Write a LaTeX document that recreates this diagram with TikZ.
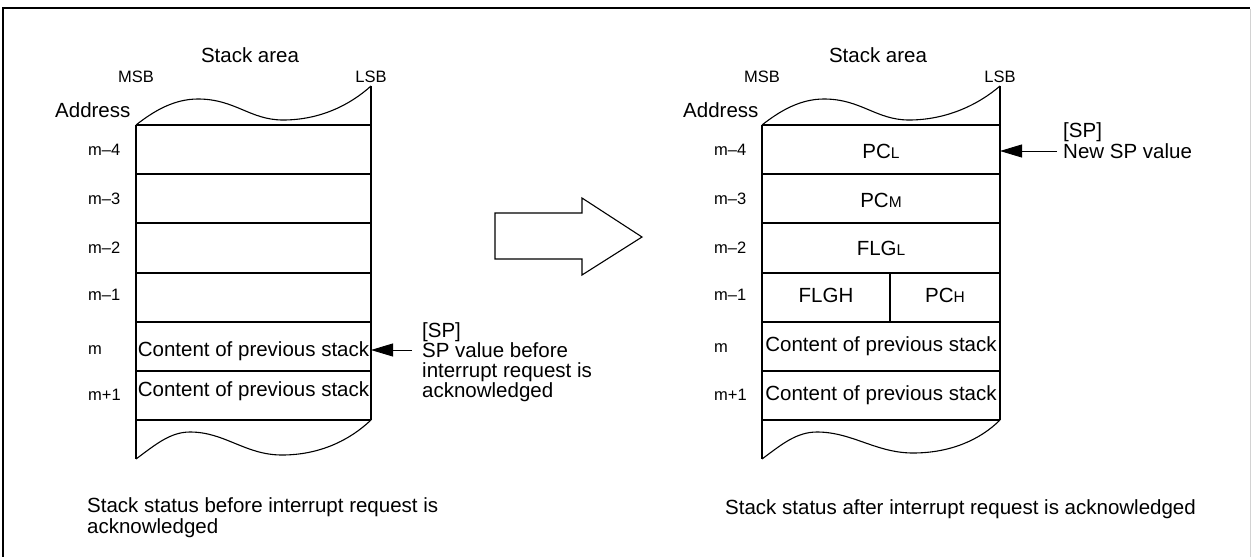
\documentclass[tikz,border=0pt]{standalone}
\usepackage{fontspec}
\setmainfont{Liberation Sans}
\usetikzlibrary{arrows.meta}
\newcommand{\lowsub}[1]{{\fontsize{15.5}{15.5}\selectfont #1}}
\tikzset{
  bigtxt/.style={font=\fontsize{20.5}{20.5}\selectfont, inner sep=0pt},
  smalltxt/.style={font=\fontsize{16.5}{16.5}\selectfont, inner sep=0pt},
  blocktxt/.style={font=\fontsize{20.5}{20.5}\selectfont, inner sep=0pt, align=left, anchor=north west},
  stackline/.style={line width=1.4pt},
  waveline/.style={line width=1.1pt},
  pointer/.style={line width=0.9pt, -{Triangle[length=22pt,width=13pt]}},
}
\begin{document}
\begin{tikzpicture}[x=1pt,y=-1pt]
\useasboundingbox (0,0) rectangle (1251,557);
% frame
\draw[line width=2.2pt] (2,8) -- (1250,8);
\draw[line width=1.6pt] (3,7) -- (3,557);
\draw[gray!35, line width=1pt] (1250,9) -- (1250,557);

% ---------- left stack ----------
\draw[stackline] (136,125) -- (136,459);
\draw[stackline] (371,86) -- (371,420);
\foreach \yy in {125,174,223,273,322,371,420}
  \draw[stackline] (136,\yy) -- (371,\yy);
\draw[waveline] (136,125) .. controls (155,110) and (175,99) .. (198,99)
  .. controls (235,99) and (250,120) .. (283,120)
  .. controls (320,120) and (350,105) .. (371,86);
\draw[waveline] (136,459) .. controls (155,445) and (170,432) .. (190,432)
  .. controls (225,432) and (245,455) .. (282,455)
  .. controls (320,455) and (350,440) .. (371,420);

\node[bigtxt, anchor=base] (lstack) at (250,62.4) {Stack area};
\node[smalltxt, anchor=base] (lmsb) at (136,82.9) {MSB};
\node[smalltxt, anchor=base] (llsb) at (371,82.9) {LSB};
\node[bigtxt, anchor=base west] (laddr) at (55,117.4) {Address};
\node[smalltxt, anchor=base west] (lm4) at (88,155) {m--4};
\node[smalltxt, anchor=base west] (lm3) at (88,204) {m--3};
\node[smalltxt, anchor=base west] (lm2) at (88,253) {m--2};
\node[smalltxt, anchor=base west] (lm1) at (88,300) {m--1};
\node[smalltxt, anchor=base west] (lm0) at (88,354) {m};
\node[smalltxt, anchor=base west] (lmp) at (88,400) {m+1};
\node[bigtxt, anchor=base] (lc0) at (253.5,356.4) {Content of previous stack};
\node[bigtxt, anchor=base] (lc1) at (253.5,396.4) {Content of previous stack};

\node[blocktxt, font=\fontsize{20.5}{20}\selectfont] (lsp) at (422,322.4) {[SP]\\SP value before\\interrupt request is\\acknowledged};
\coordinate (lsptail) at (412,350);
\coordinate (lsptip) at (371,350);
\draw[pointer] (lsptail) -- (lsptip);

\node[blocktxt, font=\fontsize{20.5}{21.5}\selectfont] (lcap) at (87,497.4) {Stack status before interrupt request is\\acknowledged};

% ---------- big arrow ----------
\draw[line width=1.1pt] (495,213) -- (582,213) -- (582,198) -- (642,237)
  -- (582,275) -- (582,259) -- (495,259) -- cycle;

% ---------- right stack ----------
\draw[stackline] (762,125) -- (762,459);
\draw[stackline] (1000,86) -- (1000,420);
\foreach \yy in {125,174,223,273,322,371,420}
  \draw[stackline] (762,\yy) -- (1000,\yy);
\draw[stackline] (890,273) -- (890,322);
\draw[waveline] (762,125) .. controls (781,110) and (801,99) .. (824,99)
  .. controls (861,99) and (876,120) .. (909,120)
  .. controls (946,120) and (978,105) .. (1000,86);
\draw[waveline] (762,459) .. controls (781,445) and (796,432) .. (817,432)
  .. controls (852,432) and (876,453) .. (913,453)
  .. controls (950,453) and (980,440) .. (1000,420);

\node[bigtxt, anchor=base] (rstack) at (878,62.4) {Stack area};
\node[smalltxt, anchor=base] (rmsb) at (762,82.9) {MSB};
\node[smalltxt, anchor=base] (rlsb) at (1000,82.9) {LSB};
\node[bigtxt, anchor=base west] (raddr) at (683,117.4) {Address};
\node[smalltxt, anchor=base west] (rm4) at (714,155) {m--4};
\node[smalltxt, anchor=base west] (rm3) at (714,204) {m--3};
\node[smalltxt, anchor=base west] (rm2) at (714,253) {m--2};
\node[smalltxt, anchor=base west] (rm1) at (714,300) {m--1};
\node[smalltxt, anchor=base west] (rm0) at (714,352) {m};
\node[smalltxt, anchor=base west] (rmp) at (714,400) {m+1};

\node[bigtxt, anchor=base] (pcl) at (881,158.4) {PC\lowsub{L}};
\node[bigtxt, anchor=base] (pcm) at (881,207.4) {PC\lowsub{M}};
\node[bigtxt, anchor=base] (flgl) at (881,255.4) {FLG\lowsub{L}};
\node[bigtxt, anchor=base] (flgh) at (826,302.4) {FLGH};
\node[bigtxt, anchor=base] (pch) at (945,302.4) {PC\lowsub{H}};
\node[bigtxt, anchor=base] (rc0) at (881,351.4) {Content of previous stack};
\node[bigtxt, anchor=base] (rc1) at (881,400.4) {Content of previous stack};

\node[blocktxt, font=\fontsize{20.5}{21}\selectfont] (rsp) at (1063,122.4) {[SP]\\New SP value};
\coordinate (rsptail) at (1057,151);
\coordinate (rsptip) at (1000,151);
\draw[pointer] (rsptail) -- (rsptip);

\node[bigtxt, anchor=base west] (rcap) at (725,514.4) {Stack status after interrupt request is acknowledged};
\end{tikzpicture}
\end{document}
